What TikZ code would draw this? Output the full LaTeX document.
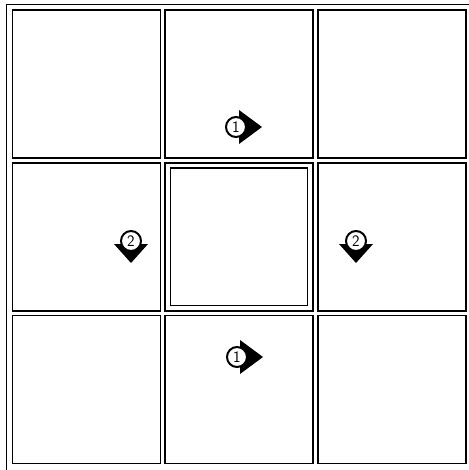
\documentclass[tikz,border=0pt]{standalone}

\begin{document}
\begin{tikzpicture}[x=1pt,y=-1pt,line width=1.6pt,
  cell/.style={draw,minimum size=148pt,inner sep=0pt},
  num/.style={circle,draw,fill=white,line width=2pt,minimum size=20pt,inner sep=0pt,font=\sffamily\fontsize{16}{16}\selectfont}]
\useasboundingbox (0,0) rectangle (468,470);
% frame and cells
\draw (6.5,4.5) rectangle (472,474);
\foreach \i in {0,1,2}
  \foreach \j in {0,1,2}
    \node[cell] (c\i\j) at ({86.5+152.6*\i},{84.2+152.6*\j}) {};
\node[cell,minimum size=137pt] (inner) at (c11) {};
% markers pointing right
\coordinate (p1) at (236,127);
\coordinate (p2) at (237,357);
\foreach \p in {p1,p2}
  \fill ([shift={(3,-17)}]\p) -- ++(23,17) -- ++(-23,17) -- cycle;
\node[num] (m1a) at (p1) {1};
\node[num] (m1b) at (p2) {1};
% markers pointing down
\coordinate (q1) at (131,241);
\coordinate (q2) at (356,241);
\foreach \q in {q1,q2}
  \fill ([shift={(-17,3)}]\q) -- ++(34,0) -- ++(-17,19) -- cycle;
\node[num] (m2a) at (q1) {2};
\node[num] (m2b) at (q2) {2};
\end{tikzpicture}
\end{document}
